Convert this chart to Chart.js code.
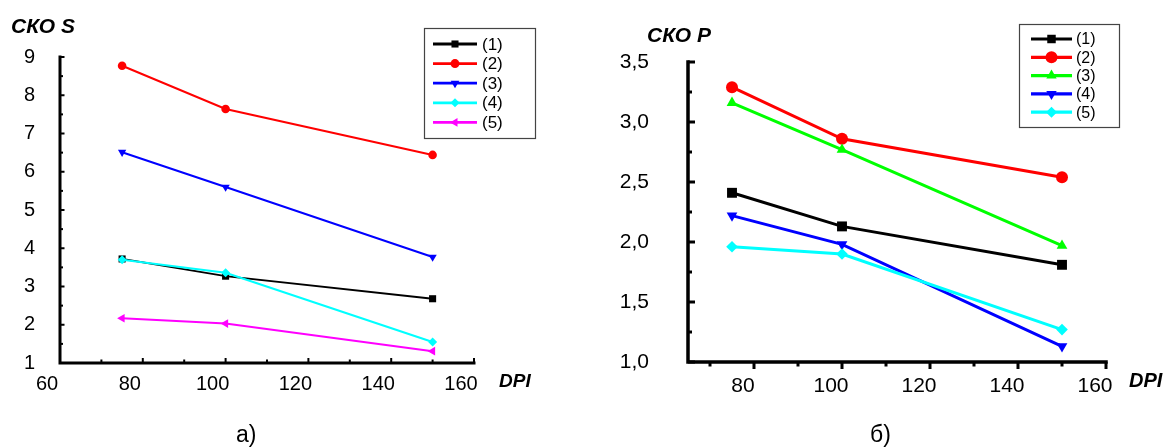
<!DOCTYPE html>
<html>
<head>
<meta charset="utf-8">
<script src="https://cdn.jsdelivr.net/npm/chart.js@4.4.0/dist/chart.umd.min.js"></script>
<style>
    body { margin: 0; background: #fff; width: 1170px; height: 447px; position: relative; overflow: hidden;
           font-family: 'Liberation Sans', Arial, sans-serif; }
    canvas { position: absolute; top: 0; }
    .lbl { position: absolute; color: #000; white-space: nowrap; line-height: 1; }
    .ttl { font-weight: bold; font-style: italic; }
</style>
</head>
<body>
<canvas id="chartA" width="560" height="447" style="left:0px"></canvas>
<canvas id="chartB" width="590" height="447" style="left:580px"></canvas>

<div class="lbl ttl" style="left:11px; top:15px; font-size:21px;">СКО S</div>
<div class="lbl ttl" style="left:647px; top:24px; font-size:21px;">СКО P</div>
<div class="lbl ttl" style="left:499px; top:371px; font-size:19px;">DPI</div>
<div class="lbl ttl" style="left:1129px; top:370px; font-size:20px;">DPI</div>
<div class="lbl" style="left:236px; top:423px; font-size:23px;">а)</div>
<div class="lbl" style="left:870px; top:423px; font-size:23px;">б)</div>

<script>
// x values (DPI) shared by both panels
const dpi = [75, 100, 150];
const seriesNames = ['(1)', '(2)', '(3)', '(4)', '(5)'];

// panel а) СКО S
const skoS1 = [3.72, 3.27, 2.68];
const skoS2 = [8.77, 7.64, 6.44];
const skoS3 = [6.51, 5.60, 3.77];
const skoS4 = [3.70, 3.36, 1.55];
const skoS5 = [2.17, 2.03, 1.31];

// panel б) СКО P
const skoP1 = [2.41, 2.13, 1.81];
const skoP2 = [3.29, 2.86, 2.54];
const skoP3 = [3.16, 2.77, 1.97];
const skoP4 = [2.22, 1.98, 1.13];
const skoP5 = [1.96, 1.90, 1.27];

// tick labels
const xTicksA = [60, 80, 100, 120, 140, 160];
const xMinorA = [70, 90, 110, 130, 150];
const yTicksA = [1, 2, 3, 4, 5, 6, 7, 8, 9];
const yMinorA = [1.5, 2.5, 3.5, 4.5, 5.5, 6.5, 7.5, 8.5];
const xTicksB = [80, 100, 120, 140, 160];
const xMinorB = [70, 90, 110, 130, 150];
const yTicksB = [1.0, 1.5, 2.0, 2.5, 3.0, 3.5];
const yMinorB = [1.25, 1.75, 2.25, 2.75, 3.25];

const FONT = "'Liberation Sans', Arial, sans-serif";
Chart.defaults.font.family = FONT;
Chart.defaults.color = '#000';

// axes + inward/outward tick marks
const frame = {
    id: 'frame',
    afterDraw(chart, args, o) {
        const { ctx, chartArea: a, scales: { x, y } } = chart;
        const seg = (x0, y0, x1, y1) => { ctx.beginPath(); ctx.moveTo(x0, y0); ctx.lineTo(x1, y1); ctx.stroke(); };
        ctx.save();
        ctx.strokeStyle = '#000';
        ctx.lineWidth = o.tickWidth;
        const dx = o.xTicksUp ? -1 : 1;
        o.xMajor.forEach(v => { const p = x.getPixelForValue(v); seg(p, a.bottom, p, a.bottom + dx * o.xMajorLen); });
        o.xMinor.forEach(v => { const p = x.getPixelForValue(v); seg(p, a.bottom, p, a.bottom + dx * o.xMinorLen); });
        o.yMajor.forEach(v => { const p = y.getPixelForValue(v); seg(a.left, p, a.left + o.yMajorLen, p); });
        o.yMinor.forEach(v => { const p = y.getPixelForValue(v); seg(a.left, p, a.left + o.yMinorLen, p); });
        ctx.lineWidth = o.axisWidth;
        ctx.lineCap = 'square';
        ctx.beginPath();
        ctx.moveTo(a.left, a.top);
        ctx.lineTo(a.left, a.bottom);
        ctx.lineTo(a.right, a.bottom);
        ctx.stroke();
        ctx.restore();
    }
};

// boxed legend with line + marker samples
const boxLegend = {
    id: 'boxLegend',
    afterDraw(chart, args, o) {
        const ctx = chart.ctx;
        ctx.save();
        ctx.strokeStyle = '#444';
        ctx.lineWidth = 1.2;
        ctx.strokeRect(o.x + 0.5, o.y + 0.5, o.w, o.h);
        ctx.font = o.fontSize + 'px ' + FONT;
        ctx.textBaseline = 'middle';
        chart.data.datasets.forEach((ds, i) => {
            const yy = o.rowY + i * o.rowStep;
            ctx.strokeStyle = ds.borderColor;
            ctx.lineWidth = o.lineWidth;
            ctx.beginPath(); ctx.moveTo(o.x0, yy); ctx.lineTo(o.x1, yy); ctx.stroke();
            ctx.fillStyle = ds.backgroundColor;
            Chart.helpers.drawPoint(ctx, {
                pointStyle: ds.pointStyle, rotation: ds.pointRotation || 0,
                radius: o.radius[i], borderWidth: 0
            }, (o.x0 + o.x1) / 2, yy);
            ctx.fillStyle = '#000';
            ctx.fillText(ds.label, o.textX, yy + 1);
        });
        ctx.restore();
    }
};

function makeDatasets(values, colors, styles, widths, radii) {
    return values.map((v, i) => ({
        label: seriesNames[i],
        data: dpi.map((x, j) => ({ x: x, y: v[j] })),
        borderColor: colors[i],
        backgroundColor: colors[i],
        borderWidth: widths[i],
        pointStyle: styles[i][0],
        pointRotation: styles[i][1],
        pointRadius: radii[i],
        pointBorderWidth: 0,
        showLine: true,
        tension: 0,
        order: values.length - i
    }));
}

function makeChart(id, cfg) {
    return new Chart(document.getElementById(id), {
        type: 'scatter',
        data: { datasets: cfg.datasets },
        options: {
            responsive: false,
            animation: false,
            events: [],
            layout: { padding: cfg.padding },
            plugins: { legend: { display: false }, tooltip: { enabled: false }, frame: cfg.frame, boxLegend: cfg.legend },
            scales: {
                x: {
                    type: 'linear', min: cfg.xMin, max: cfg.xMax,
                    grid: { display: false }, border: { display: false },
                    afterBuildTicks: s => { s.ticks = cfg.xTicks.map(v => ({ value: v })); },
                    afterFit: s => { s.height = 45; },
                    ticks: { autoSkip: false, maxRotation: 0, padding: cfg.xPad, labelOffset: cfg.xLabelOffset,
                             font: { size: cfg.fontSize }, color: '#000' }
                },
                y: {
                    type: 'linear', min: cfg.yMin, max: cfg.yMax,
                    grid: { display: false }, border: { display: false },
                    afterBuildTicks: s => { s.ticks = cfg.yTicks.map(v => ({ value: v })); },
                    afterFit: s => { s.width = cfg.yWidth; },
                    ticks: { autoSkip: false, padding: cfg.yPad, font: { size: cfg.fontSize }, color: '#000',
                             callback: cfg.yFormat }
                }
            }
        },
        plugins: [frame, boxLegend]
    });
}

makeChart('chartA', {
    datasets: makeDatasets(
        [skoS1, skoS2, skoS3, skoS4, skoS5],
        ['#000000', '#ff0000', '#0000ff', '#00ffff', '#ff00ff'],
        [['rect', 0], ['circle', 0], ['triangle', 180], ['rectRot', 0], ['triangle', -90]],
        [1.8, 2, 2, 2.2, 2],
        [5, 4.3, 4.8, 4.5, 5]
    ),
    padding: { left: 0, top: 57, right: 86, bottom: 39 },
    xMin: 60, xMax: 160, yMin: 1, yMax: 9,
    xTicks: xTicksA, yTicks: yTicksA,
    xPad: 1, xLabelOffset: -13, yPad: 17, yWidth: 60, fontSize: 20,
    yFormat: v => String(v),
    frame: { axisWidth: 3, tickWidth: 2, xTicksUp: true, xMajorLen: 5, xMinorLen: 3.5, yMajorLen: 4.5, yMinorLen: 3,
             xMajor: xTicksA, xMinor: xMinorA, yMajor: yTicksA, yMinor: yMinorA },
    legend: { x: 424, y: 28, w: 111, h: 110, rowY: 44, rowStep: 19.6, x0: 433, x1: 477, textX: 482,
              fontSize: 17, lineWidth: 2.8, radius: [5, 4.5, 5, 4.5, 5] }
});

makeChart('chartB', {
    datasets: makeDatasets(
        [skoP1, skoP2, skoP3, skoP4, skoP5],
        ['#000000', '#ff0000', '#00ff00', '#0000ff', '#00ffff'],
        [['rect', 0], ['circle', 0], ['triangle', 0], ['triangle', 180], ['rectRot', 0]],
        [3, 3, 3, 3, 3],
        [7, 6, 6.2, 6.2, 5.8]
    ),
    padding: { left: 0, top: 62, right: 64, bottom: 40 },
    xMin: 65, xMax: 160, yMin: 1, yMax: 3.5,
    xTicks: xTicksB, yTicks: yTicksB,
    xPad: 4, xLabelOffset: -11, yPad: 31, yWidth: 108, fontSize: 21,
    yFormat: v => v.toFixed(1).replace('.', ','),
    frame: { axisWidth: 3.5, tickWidth: 3, xTicksUp: false, xMajorLen: 7, xMinorLen: 4.5, yMajorLen: 7, yMinorLen: 4,
             xMajor: xTicksB, xMinor: xMinorB, yMajor: yTicksB, yMinor: yMinorB },
    legend: { x: 439, y: 24, w: 100, h: 103, rowY: 39, rowStep: 18.3, x0: 451, x1: 492, textX: 496,
              fontSize: 16, lineWidth: 3.2, radius: [6, 6, 6, 6, 5.5] }
});
</script>
</body>
</html>
